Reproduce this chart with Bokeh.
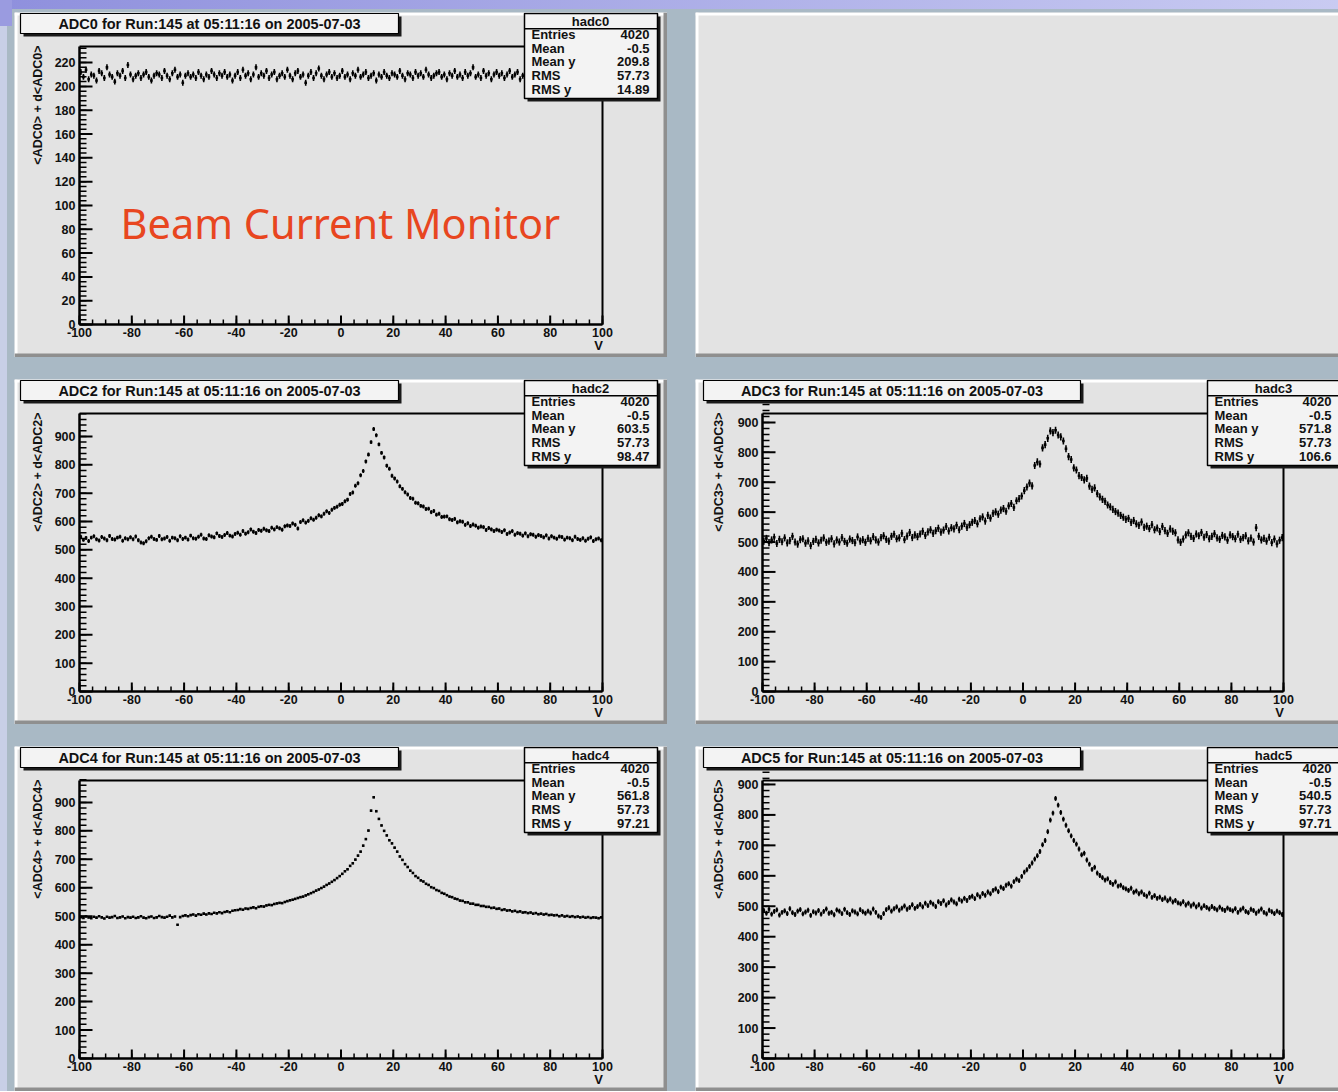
from math import pi

from bokeh.core.properties import value
from bokeh.embed import file_html
from bokeh.layouts import column, row
from bokeh.models import BoxAnnotation, ColumnDataSource, Label, Range1d
from bokeh.plotting import figure
from bokeh.resources import INLINE

# ---------------------------------------------------------------- data
# profile bin centres: 200 bins of 1 V between -100 V and +100 V
VOLTS = [-99.5 + i for i in range(200)]

ADC0 = [
    212, 208, 214, 206, 210, 209, 205, 213, 211, 207, 216, 210, 208, 204, 211, 209, 213, 207, 218, 210,
    206, 209, 211, 207, 210, 212, 208, 205, 209, 211, 210, 207, 213, 209, 206, 211, 214, 208, 210, 203,
    209, 211, 208, 210, 207, 212, 209, 206, 210, 208, 213, 210, 207, 211, 209, 212, 208, 210, 205, 209,
    212, 207, 214, 209, 211, 206, 210, 216, 208, 211, 209, 213, 207, 210, 212, 206, 209, 211, 208, 214,
    209, 206, 211, 213, 208, 210, 203, 209, 212, 207, 211, 215, 209, 206, 210, 212, 208, 211, 207, 209,
    213, 208, 210, 206, 211, 209, 214, 208, 210, 212, 207, 209, 211, 205, 210, 208, 212, 209, 207, 211,
    210, 208, 213, 209, 206, 211, 210, 207, 212, 209, 211, 208, 214, 210, 207, 209, 211, 212, 208, 210,
    206, 211, 209, 213, 208, 210, 207, 212, 209, 211, 216, 208, 210, 207, 213, 209, 211, 206, 210, 212,
    209, 211, 207, 210, 213, 208, 210, 212, 206, 209, 211, 208, 210, 214, 209, 207, 211, 210, 208, 212,
    210, 207, 211, 209, 213, 208, 210, 211, 207, 209, 212, 210, 208, 211, 209, 210, 207, 212, 209, 210,
]

ADC2 = [
    546, 535, 542, 531, 543, 548, 537, 533, 545, 540, 534, 549, 538, 536, 543, 546, 532, 541, 537, 544,
    537, 547, 534, 526, 523, 530, 541, 546, 538, 535, 549, 537, 540, 545, 532, 543, 541, 534, 548, 538,
    543, 536, 550, 541, 539, 546, 553, 540, 538, 551, 547, 544, 558, 549, 545, 552, 559, 550, 547, 556,
    560, 553, 566, 557, 562, 572, 564, 559, 570, 567, 574, 569, 566, 578, 572, 580, 576, 571, 583, 586,
    584, 593, 588, 575, 598, 604, 596, 602, 611, 606, 613, 622, 618, 627, 636, 630, 641, 648, 652, 659,
    662, 671, 677, 697, 702, 726, 735, 763, 778, 812, 836, 880, 926, 904, 872, 842, 826, 797, 786, 761,
    752, 741, 724, 715, 703, 695, 683, 680, 666, 664, 655, 653, 644, 645, 633, 637, 624, 627, 616, 617,
    618, 608, 605, 609, 597, 601, 599, 588, 594, 584, 589, 585, 578, 582, 580, 570, 577, 572, 566, 571,
    568, 563, 569, 556, 561, 566, 553, 559, 557, 550, 558, 548, 555, 553, 546, 552, 549, 544, 551, 540,
    548, 543, 539, 547, 545, 536, 543, 541, 534, 546, 538, 535, 541, 532, 539, 544, 531, 537, 540, 534,
]

ADC3 = [
    503, 512, 498, 507, 516, 495, 509, 501, 514, 497, 505, 519, 500, 493, 508, 511, 496, 504, 488, 502,
    509, 497, 506, 514, 499, 503, 511, 494, 507, 500, 515, 502, 496, 510, 505, 498, 517, 503, 508, 499,
    512, 504, 518, 507, 500, 515, 521, 509, 503, 519, 526, 511, 514, 529, 508, 520, 532, 515, 524, 518,
    527, 536, 522, 534, 541, 529, 538, 546, 533, 540, 552, 537, 548, 544, 556, 541, 553, 562, 549, 558,
    566, 572, 561, 578, 584, 570, 589, 580, 596, 601, 593, 607, 612, 603, 621, 629, 616, 638, 645, 654,
    672, 684, 697, 688, 756, 768, 761, 815, 826, 847, 872, 866, 874, 858, 852, 838, 812, 786, 776, 748,
    741, 722, 716, 708, 713, 687, 676, 681, 662, 651, 643, 636, 624, 618, 609, 602, 597, 589, 583, 576,
    579, 566, 572, 561, 556, 567, 549, 553, 545, 558, 541, 547, 535, 552, 538, 529, 544, 536, 531, 507,
    499, 510, 524, 531, 519, 512, 527, 521, 532, 516, 525, 511, 519, 528, 514, 509, 522, 517, 506, 524,
    518, 511, 526, 509, 515, 521, 504, 513, 500, 548, 519, 507, 512, 503, 516, 498, 510, 494, 506, 515,
]

ADC4 = [
    497, 494, 499, 496, 493, 498, 495, 500, 496, 492, 498, 495, 497, 501, 494, 496, 499, 493, 497, 495,
    498, 494, 496, 500, 495, 493, 497, 499, 494, 496, 501, 497, 495, 498, 502, 496, 499, 470, 497, 501,
    503, 500, 504, 506, 502, 507, 505, 509, 506, 510, 508, 512, 510, 514, 511, 515, 517, 514, 519, 521,
    522, 525, 523, 527, 526, 529, 531, 528, 533, 535, 534, 538, 540, 539, 543, 545, 547, 546, 550, 553,
    556, 558, 561, 564, 567, 569, 573, 577, 581, 585, 590, 594, 599, 604, 610, 615, 621, 627, 634, 641,
    649, 658, 665, 677, 686, 699, 713, 727, 748, 771, 801, 871, 918, 869, 842, 819, 800, 784, 767, 756,
    741, 727, 710, 698, 683, 673, 660, 652, 641, 635, 626, 622, 614, 610, 602, 599, 592, 589, 582, 579,
    574, 569, 567, 562, 560, 555, 554, 549, 549, 544, 544, 540, 540, 536, 536, 533, 533, 529, 530, 526,
    527, 522, 524, 520, 521, 517, 519, 515, 517, 513, 514, 511, 513, 509, 511, 507, 509, 506, 508, 504,
    505, 503, 504, 500, 503, 499, 501, 498, 500, 497, 499, 496, 498, 495, 497, 494, 496, 495, 493, 496,
]

ADC5 = [
    486, 477, 490, 474, 483, 488, 471, 480, 485, 476, 492, 479, 473, 484, 489, 475, 481, 487, 470, 482,
    478, 486, 474, 483, 491, 477, 480, 472, 488, 484, 476, 490, 479, 473, 485, 481, 475, 489, 482, 477,
    484, 478, 491, 480, 468, 463, 476, 489, 495, 484, 492, 498, 487, 494, 501, 490, 496, 505, 493, 499,
    506, 498, 510, 502, 513, 507, 499, 515, 509, 518, 504, 512, 521, 514, 508, 523, 517, 526, 519, 529,
    533, 525, 538, 531, 542, 536, 547, 541, 552, 557, 548, 563, 558, 569, 574, 566, 581, 589, 584, 598,
    612, 620, 631, 642, 655, 666, 680, 702, 716, 745, 783, 806, 854, 832, 808, 786, 766, 748, 731, 716,
    704, 688, 669, 674, 652, 638, 621, 628, 609, 601, 594, 586, 590, 578, 572, 580, 566, 569, 561, 557,
    552, 559, 546, 550, 541, 547, 538, 533, 543, 529, 535, 526, 530, 522, 527, 518, 524, 514, 519, 511,
    508, 515, 504, 510, 501, 507, 498, 505, 494, 502, 496, 491, 499, 493, 488, 497, 490, 486, 494, 489,
    485, 492, 480, 488, 494, 483, 479, 490, 486, 477, 484, 491, 480, 475, 487, 482, 476, 484, 479, 473,
]

# error on the mean of each profile bin
ERRORS = {"ADC0": 2.5, "ADC2": 7.0, "ADC3": 12.0, "ADC4": 3.0, "ADC5": 8.0}

STAT_NAMES = ["Entries", "Mean", "Mean y", "RMS", "RMS y"]
STATS = {
    "hadc0": ["4020", "-0.5", "209.8", "57.73", "14.89"],
    "hadc2": ["4020", "-0.5", "603.5", "57.73", "98.47"],
    "hadc3": ["4020", "-0.5", "571.8", "57.73", "106.6"],
    "hadc4": ["4020", "-0.5", "561.8", "57.73", "97.21"],
    "hadc5": ["4020", "-0.5", "540.5", "57.73", "97.71"],
}

RUN_INFO = "Run:145 at 05:11:16 on 2005-07-03"

X_TICKS = [-100, -80, -60, -40, -20, 0, 20, 40, 60, 80, 100]
X_MINOR = list(range(-100, 101, 5))
Y_TICKS_SMALL = [0, 20, 40, 60, 80, 100, 120, 140, 160, 180, 200, 220]
Y_MINOR_SMALL = list(range(0, 233, 4))
Y_TICKS_LARGE = [0, 100, 200, 300, 400, 500, 600, 700, 800, 900]
Y_MINOR_LARGE = list(range(0, 981, 20))
Y_MAX = {"ADC0": 233.5, "ADC2": 981.0, "ADC3": 930.0, "ADC4": 977.0, "ADC5": 913.0}

# ---------------------------------------------------------------- style
PAGE = "#a9b9c5"
PAD = "#e3e3e3"
BOXFILL = "#f3f3f3"
INK = "#111111"
DARK = "#8f8f8f"
FONT = "Liberation Sans"

# pad geometry in pixels, measured from the pad's top-left corner
H, FT, FB = 345, 34, 312
LEFT = dict(w=653, fl=65, fr=588, title=(6, 384), stats=(510, 643), names=517, vals=635, head=576)
RIGHT = dict(w=643, fl=67, fr=588, title=(8, 385), stats=(512, 645), names=519, vals=636, head=578)
ROWS_Y = [22, 35.5, 49, 62.5, 76.5]


def new_pad(w, margin, x_range, y_range):
    p = figure(width=w, height=H, x_range=x_range, y_range=y_range,
               x_axis_type=None, y_axis_type=None, output_backend="svg",
               toolbar_location=None, title=None, min_border=0, frame_align=False,
               background_fill_color=PAD, border_fill_color=PAD, outline_line_color=None,
               margin=margin)
    return p


def helpers(p, w):
    def rect(x0, y0, x1, y1, fill, line=None, lw=1.0):
        p.add_layout(BoxAnnotation(
            left=x0, right=x1, top=H - y0, bottom=H - y1,
            left_units="screen", right_units="screen", top_units="screen", bottom_units="screen",
            fill_color=fill, fill_alpha=1.0, line_color=line, line_width=lw, line_alpha=1.0))

    def text(px, py, s, size="13px", align="left", **kw):
        p.add_layout(Label(x=px, y=H - py, x_units="screen", y_units="screen", text=s,
                           text_font=FONT, text_font_style="bold", text_font_size=size,
                           text_align=align, text_baseline="middle", text_color=INK, **kw))
    return rect, text


def bevel(rect, w, full_right):
    rect(0, 0, w, 3, "white")
    rect(0, 0, 3, H, "white")
    rect(0, H - 4, w, H, DARK)
    if full_right:
        rect(w - 4, 0, w, H, DARK)


def make_pad(key, values, g, yticks, yminor, margin, hname, full_right):
    w, fl, fr = g["w"], g["fl"], g["fr"]
    ymax = Y_MAX[key]
    kx = 200.0 / (fr - fl)          # volts per pixel
    ky = ymax / (FB - FT)           # ADC counts per pixel
    xr = Range1d(-100 - fl * kx, 100 + (w - fr) * kx)
    yr = Range1d(-(H - FB) * ky, ymax + FT * ky)
    p = new_pad(w, margin, xr, yr)

    ink = dict(line_color="black")
    # tick marks pointing into the frame
    p.segment(x0=X_MINOR, y0=0, x1=X_MINOR, y1=5 * ky, line_width=1.5, **ink)
    p.segment(x0=X_TICKS, y0=0, x1=X_TICKS, y1=9 * ky, line_width=2, **ink)
    p.segment(x0=-100, y0=yminor, x1=-100 + 7 * kx, y1=yminor, line_width=1.5, **ink)
    p.segment(x0=-100, y0=yticks, x1=-100 + 13 * kx, y1=yticks, line_width=2, **ink)

    # frame: axes (left / bottom) and closing lines (top / right)
    p.segment(x0=[-100, -100], y0=[0, 0], x1=[100, -100], y1=[0, ymax], line_width=2.5, **ink)
    p.segment(x0=[-100, 100], y0=[ymax, 0], x1=[100, 100], y1=[ymax, ymax], line_width=2, **ink)

    lab = dict(text_font=value(FONT), text_font_style="bold", text_font_size=value("12.5px"),
               text_color=INK)
    p.text(x=X_TICKS, y=[0] * len(X_TICKS), text=[str(t) for t in X_TICKS],
           text_align="center", text_baseline="top", y_offset=3, **lab)
    p.text(x=[-100] * len(yticks), y=yticks, text=[str(t) for t in yticks],
           text_align="right", text_baseline="middle", x_offset=-4, **lab)

    # profile points: bin-width bar plus error bar
    err = ERRORS[key]
    src = ColumnDataSource(dict(
        x=VOLTS, y=values,
        x0=[v - 0.5 for v in VOLTS], x1=[v + 0.5 for v in VOLTS],
        lo=[v - err for v in values], hi=[v + err for v in values]))
    p.segment(x0="x0", y0="y", x1="x1", y1="y", source=src, line_color="black", line_width=2.6)
    p.segment(x0="x", y0="lo", x1="x", y1="hi", source=src, line_color="black", line_width=1.6)

    rect, text = helpers(p, w)
    bevel(rect, w, full_right)

    # title box
    t0, t1 = g["title"]
    rect(t0 + 3, 4, t1 + 3, 24, "#1a1a1a")
    rect(t0, 1, t1, 21, BOXFILL, "black", 1.2)
    text((t0 + t1) / 2, 11, f"{key} for {RUN_INFO}", size="14.5px", align="center")

    # statistics box
    s0, s1 = g["stats"]
    rect(s0 + 3, 4, s1 + 3, 89, "#1a1a1a")
    rect(s0, 1, s1, 86, BOXFILL, "black", 1.5)
    rect(s0, 15.5, s1, 17, "black")
    text(g["head"], 8.5, hname, align="center")
    for name, val, yy in zip(STAT_NAMES, STATS[hname], ROWS_Y):
        text(g["names"], yy, name)
        text(g["vals"], yy, val, align="right")

    # axis titles
    text(23, 33, f"<{key}> + d<{key}>", size="12.5px", align="right", angle=pi / 2)
    text(fr - 4, 333, "V", size="13px", align="center")
    return p


pad1 = make_pad("ADC0", ADC0, LEFT, Y_TICKS_SMALL, Y_MINOR_SMALL, (12, 0, 0, 14), "hadc0", True)
pad1.add_layout(Label(x=106, y=H - 210, x_units="screen", y_units="screen",
                      text="Beam Current Monitor", text_font="Noto Sans", text_font_size="41.5px",
                      text_color="#e8461f", text_baseline="middle"))

# empty pad next to the beam current monitor
pad2 = new_pad(RIGHT["w"], (12, 0, 0, 28), Range1d(0, 1), Range1d(0, 1))
rect2, _ = helpers(pad2, RIGHT["w"])
bevel(rect2, RIGHT["w"], False)

pad3 = make_pad("ADC2", ADC2, LEFT, Y_TICKS_LARGE, Y_MINOR_LARGE, (22, 0, 0, 14), "hadc2", True)
pad4 = make_pad("ADC3", ADC3, RIGHT, Y_TICKS_LARGE, Y_MINOR_LARGE, (22, 0, 0, 28), "hadc3", False)
pad5 = make_pad("ADC4", ADC4, LEFT, Y_TICKS_LARGE, Y_MINOR_LARGE, (22, 0, 0, 14), "hadc4", True)
pad6 = make_pad("ADC5", ADC5, RIGHT, Y_TICKS_LARGE, Y_MINOR_LARGE, (22, 0, 0, 28), "hadc5", False)

page_bg = ("linear-gradient(#9a9be0, #9a9be0) 0 0 / 12px 26px no-repeat, "
           "linear-gradient(90deg, #8f90dd, #c9cbf2) 0 0 / 100% 9px no-repeat, "
           "linear-gradient(#c8cfe7, #c8cfe7) 0 0 / 7px 100% no-repeat, " + PAGE)

layout = column(row(pad1, pad2), row(pad3, pad4), row(pad5, pad6),
                styles={"background": page_bg})

open("out.html", "w").write(file_html(layout, INLINE))
